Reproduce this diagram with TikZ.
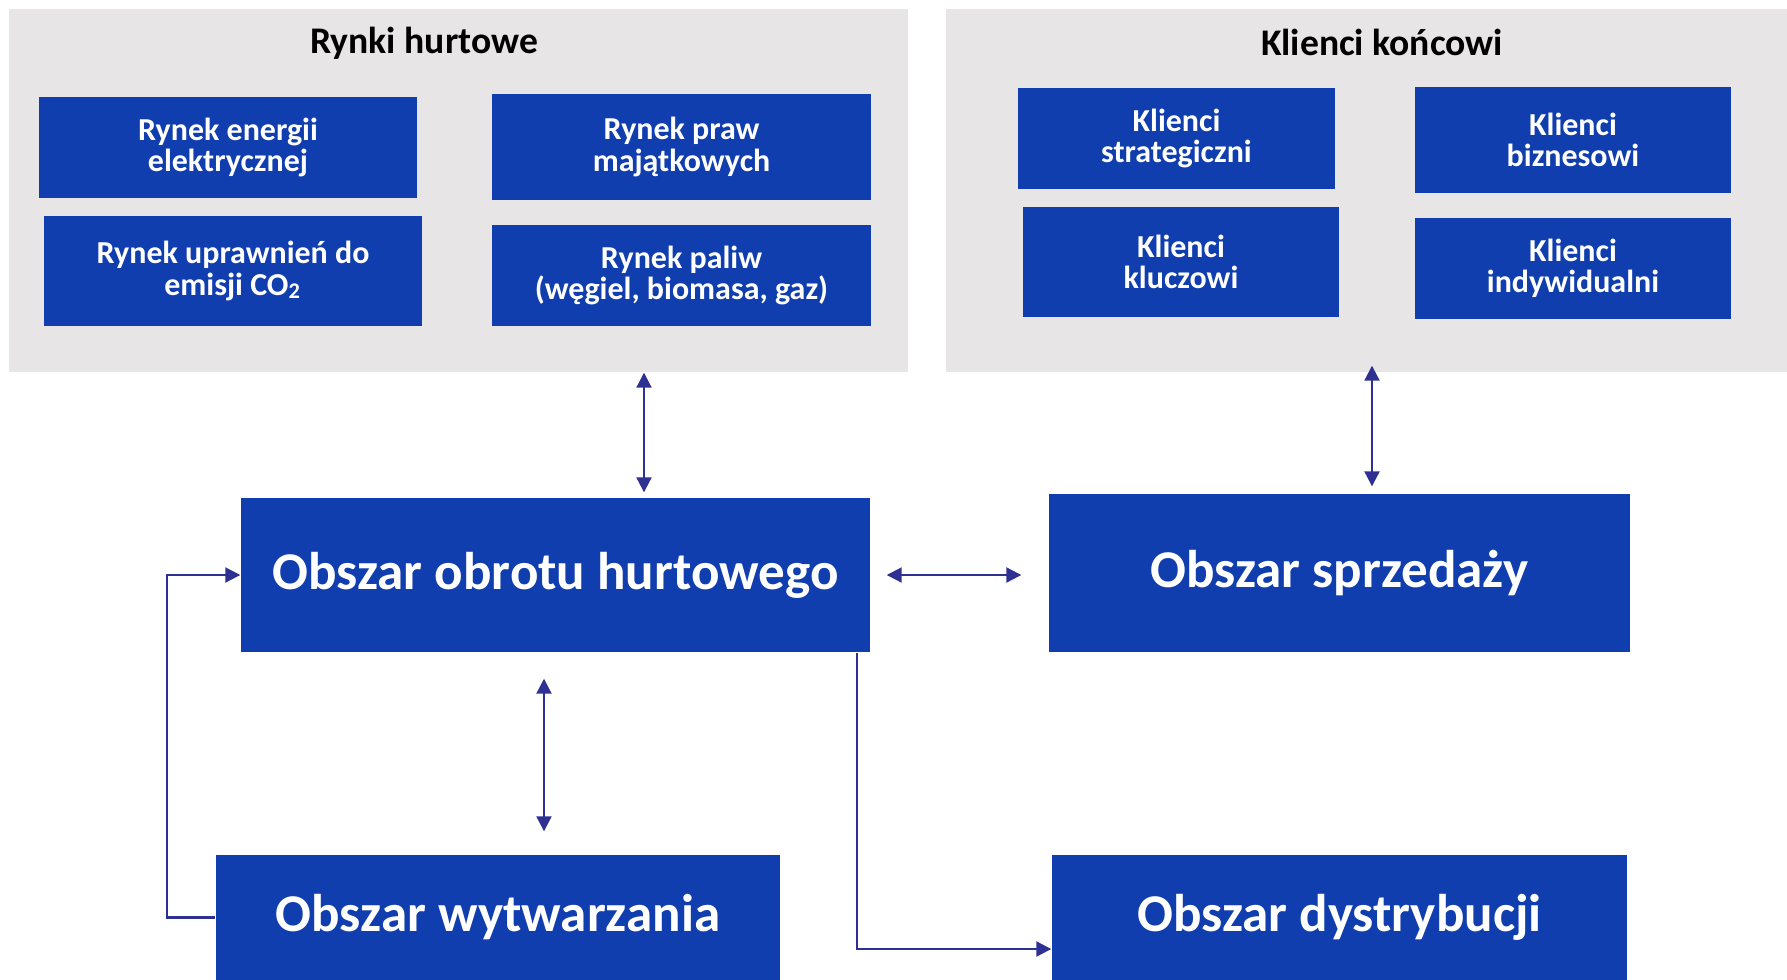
\documentclass[tikz,border=0pt]{standalone}
\usepackage{fontspec}
\setmainfont{Carlito}
\usetikzlibrary{positioning,arrows.meta}
\definecolor{boxblue}{RGB}{16,62,174}
\definecolor{linknavy}{RGB}{46,49,146}
\definecolor{panelgray}{RGB}{231,229,230}
\tikzset{P node/.style={rectangle,fill=panelgray,inner sep=0pt},
	T node/.style={font=\bfseries\fontsize{10.7}{12}\selectfont,inner sep=0pt},
	S node/.style={rectangle,fill=boxblue,text=white,inner sep=0pt,align=center,font=\bfseries\fontsize{9.1}{8.9}\selectfont},
	A node/.style={rectangle,fill=boxblue,text=white,inner sep=0pt,font=\bfseries\fontsize{15.1}{17}\selectfont},
	link/.style={draw=linknavy,line width=0.6pt,{Triangle[length=1.5mm,width=1.5mm]}-{Triangle[length=1.5mm,width=1.5mm]}},
	one way/.style={draw=linknavy,line width=0.6pt,-{Triangle[length=1.5mm,width=1.5mm]}},}

\begin{document}
\begin{tikzpicture}[x=0.1mm,y=-0.1mm]
			\useasboundingbox (0,0) rectangle (1787,980);

			% panels
			\node[P node,minimum width=89.9mm,minimum height=36.3mm] (hurt) at (458.5,190.5) {};
			\node[P node,minimum width=84.1mm,minimum height=36.3mm] (klient) at (1366.5,190.5) {};
			\node[T node] (hurtT) at (424,43) {Rynki hurtowe};
			\node[T node] (klientT) at (1382,42) {Klienci końcowi};

			% wholesale markets
			\node[S node,minimum width=37.8mm,minimum height=10.1mm] (en) at (228,147.5) {Rynek energii\\elektrycznej};
			\node[S node,minimum width=37.9mm,minimum height=10.6mm] (praw) at (681.5,147) {Rynek praw\\majątkowych};
			\node[S node,minimum width=37.8mm,minimum height=11mm] (co2) at (233,271) {Rynek uprawnień do\\emisji CO\textsubscript{2}};
			\node[S node,minimum width=37.9mm,minimum height=10.1mm] (paliw) at (681.5,275.5) {Rynek paliw\\(węgiel, biomasa, gaz)};

			% end customers
			\node[S node,minimum width=31.7mm,minimum height=10.1mm] (strat) at (1176.5,138.5) {Klienci\\strategiczni};
			\node[S node,minimum width=31.6mm,minimum height=10.6mm] (bizn) at (1573,140) {Klienci\\biznesowi};
			\node[S node,minimum width=31.6mm,minimum height=11mm] (klucz) at (1181,262) {Klienci\\kluczowi};
			\node[S node,minimum width=31.6mm,minimum height=10.1mm] (indyw) at (1573,268.5) {Klienci\\indywidualni};

			% areas
			\node[A node,minimum width=62.9mm,minimum height=15.4mm] (obrot) at (555.5,575) {Obszar obrotu hurtowego};
			\node[A node,minimum width=58.1mm,minimum height=15.8mm] (sprz) at (1339.5,573) {Obszar sprzedaży};
			\node[A node,minimum width=56.4mm,minimum height=12.5mm] (wytw) at (498,917.5) {Obszar wytwarzania};
			\node[A node,minimum width=57.5mm,minimum height=12.5mm] (dystr) at (1339.5,917.5) {Obszar dystrybucji};

			\draw[link,shorten <=0.5mm]
				([xshift=8.85mm]obrot.north) -- ([xshift=8.85mm]obrot.north |- hurt.south);
			\draw[link,shorten <=0.7mm,shorten >=-0.7mm]
				([xshift=3.25mm]sprz.north) -- ([xshift=3.25mm]sprz.north |- klient.south);
			\draw[link,shorten <=1.6mm,shorten >=2.7mm]
				(obrot.east) -- (obrot.east -| sprz.west);
			\draw[link,shorten <=2.3mm,shorten >=2.6mm]
				([xshift=4.6mm]wytw.north) -- ([xshift=4.6mm]wytw.north |- obrot.south);
			\draw[one way] (wytw.west) -- ++(-48,0) |- (obrot.west);
			\draw[one way] ([xshift=-1.4mm]obrot.south east) |- ([yshift=-3.15mm]dystr.west);
		\end{tikzpicture}
\end{document}
